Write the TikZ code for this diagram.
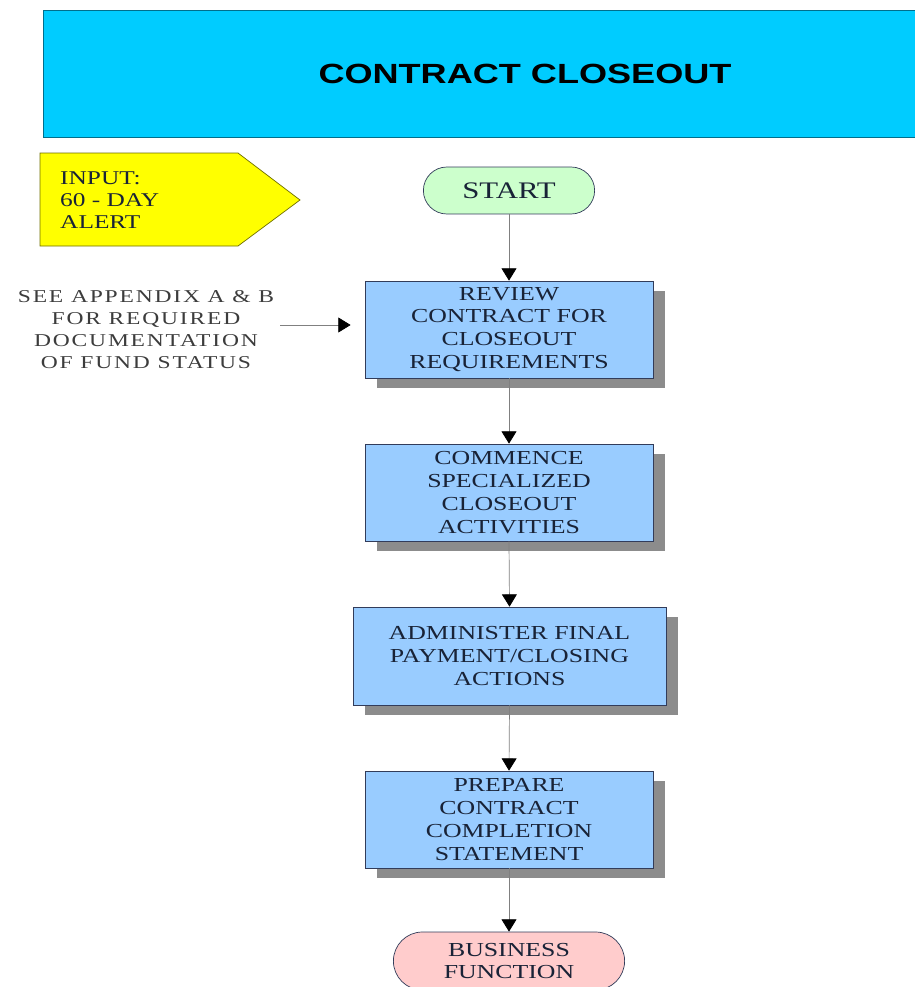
\documentclass[tikz,border=0pt]{standalone}
\usepackage{fontspec}
\setmainfont{Liberation Serif}[FakeStretch=1.3]
\setsansfont{Liberation Sans}[FakeStretch=1.3]
\newfontfamily\notefont{Liberation Serif}[FakeStretch=1.3,LetterSpace=10]
\usetikzlibrary{positioning,shapes.misc,shadows,arrows.meta}

\definecolor{headcyan}{RGB}{0,204,255}
\definecolor{headline}{RGB}{0,110,140}
\definecolor{procblue}{RGB}{153,204,255}
\definecolor{startgreen}{RGB}{204,255,204}
\definecolor{endpink}{RGB}{255,204,204}
\definecolor{alertyellow}{RGB}{255,255,0}
\definecolor{alertline}{RGB}{110,110,0}
\definecolor{boxline}{RGB}{50,60,90}
\definecolor{boxtext}{RGB}{25,35,55}
\definecolor{notetext}{RGB}{60,60,60}

\begin{document}
\begin{tikzpicture}
  [x=0.02cm, y=-0.02cm,
   proc/.style={draw=boxline,
                fill=procblue,
                text=boxtext,
                minimum width=5.76cm,
                minimum height=1.94cm,
                align=center,
                font=\fontsize{11.3}{13}\selectfont,
                drop shadow={shadow xshift=0.24cm,
                             shadow yshift=-0.2cm,
                             fill=gray!90,
                             opacity=1}},
   term/.style={draw=boxline,
                rounded rectangle,
                text=boxtext,
                align=center},
   flow/.style={draw=gray,
                -{Triangle[length=7pt,width=8.5pt,color=black]}}]
  \useasboundingbox (0,0) rectangle (915,987);
  \clip (0,0) rectangle (915,987);

  % title bar
  \node[draw=headline, fill=headcyan,
        minimum width=19.28cm, minimum height=2.54cm,
        font=\sffamily\bfseries\fontsize{15.8}{18}\selectfont]
    (head) at (525,73.5) {CONTRACT CLOSEOUT};

  % input
  \draw[draw=alertline, fill=alertyellow]
    (40,153) -- (238,153) -- (300,200) -- (238,246) -- (40,246) -- cycle;
  \node[anchor=west, align=left, text=boxtext,
        font=\fontsize{11.1}{12.5}\selectfont]
    (alert) at (54,200) {INPUT:\\60 - DAY\\ALERT};

  % main flow
  \node[term, fill=startgreen, minimum width=3.66cm, minimum height=0.94cm,
        font=\fontsize{13.5}{15}\selectfont]
    (start) at (509,190.5) {START};
  \node[proc] (review) at (509,329.5)
    {REVIEW\\CONTRACT FOR\\CLOSEOUT\\REQUIREMENTS};
  \node[proc] (commence) at (509,492.5)
    {COMMENCE\\SPECIALIZED\\CLOSEOUT\\ACTIVITIES};
  \node[proc, minimum width=6.26cm, minimum height=1.96cm] (admin) at (509.5,656)
    {ADMINISTER FINAL\\PAYMENT/CLOSING\\ACTIONS};
  \node[proc] (prepare) at (509,819.5)
    {PREPARE\\CONTRACT\\COMPLETION\\STATEMENT};
  \node[term, fill=endpink, minimum width=4.86cm, minimum height=1.16cm,
        font=\fontsize{11.3}{13}\selectfont]
    (business) at (509,961) {BUSINESS\\FUNCTION};

  % side note
  \node[align=center, text=notetext,
        font=\notefont\fontsize{10.3}{12.5}\selectfont]
    (note) at (146,330)
    {SEE APPENDIX A \& B\\FOR REQUIRED\\DOCUMENTATION\\OF FUND STATUS};

  \draw[flow, shorten >=8] (note.east |- 0,325) -- (review.west |- 0,325);
  \foreach \a/\b in {start/review, review/commence, commence/admin,
                     admin/prepare, prepare/business}
    \draw[flow] (\a.south) -- (\b.north);
\end{tikzpicture}
\end{document}
